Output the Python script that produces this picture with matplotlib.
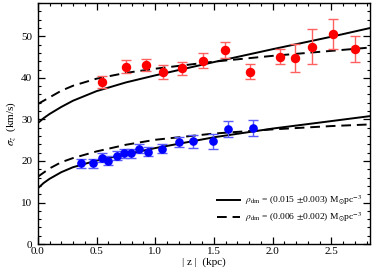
import matplotlib
matplotlib.use("Agg")
import matplotlib.pyplot as plt
from matplotlib.ticker import MultipleLocator

plt.rcParams['font.family'] = ['Liberation Serif', 'DejaVu Serif']
plt.rcParams['mathtext.fontset'] = 'stix'

# Red (upper) data
red_z = [0.545, 0.75, 0.92, 1.07, 1.23, 1.41, 1.594, 1.807, 2.06, 2.19, 2.337, 2.51, 2.70]
red_s = [39.0, 42.7, 43.1, 41.4, 42.3, 44.1, 46.7, 41.5, 45.1, 44.7, 47.5, 50.5, 47.0]
red_e = [1.5, 1.5, 1.5, 1.6, 1.6, 1.8, 1.9, 1.8, 1.8, 3.4, 4.2, 3.6, 3.1]

# Blue (lower) data
blue_z = [0.37, 0.468, 0.545, 0.60, 0.675, 0.73, 0.79, 0.86, 0.94, 1.055, 1.20, 1.32, 1.49, 1.62, 1.835]
blue_s = [19.4, 19.4, 20.8, 20.1, 21.3, 21.8, 21.8, 23.0, 22.2, 23.0, 24.5, 24.7, 24.7, 27.6, 27.9]
blue_e = [1.0, 1.0, 1.0, 1.0, 1.0, 1.0, 1.0, 1.1, 1.1, 1.1, 1.2, 1.5, 1.8, 1.9, 2.0]

# Model curves
curve_z = [0.0, 0.05, 0.1, 0.2, 0.3, 0.5, 0.75, 1.0, 1.5, 2.0, 2.5, 2.83]
red_solid = [29.1, 30.3, 31.3, 33.0, 34.5, 36.8, 38.9, 40.6, 43.8, 46.9, 49.9, 52.0]
red_dash = [33.7, 34.5, 35.3, 36.9, 38.1, 39.8, 41.2, 42.2, 43.9, 45.3, 46.5, 47.3]
blue_solid = [13.4, 14.7, 15.7, 17.3, 18.5, 20.1, 21.6, 23.1, 25.7, 27.8, 29.6, 30.8]
blue_dash = [16.2, 17.2, 18.2, 19.7, 20.7, 22.3, 23.9, 25.1, 26.6, 27.6, 28.4, 28.8]

labels = [r"$\rho_{\rm dm}$ = (0.015 $\pm$0.003) M$_{\odot}$pc$^{-3}$",
          r"$\rho_{\rm dm}$ = (0.006 $\pm$0.002) M$_{\odot}$pc$^{-3}$"]

fig = plt.figure(figsize=(3.74, 2.78), dpi=100)
ax = fig.add_axes([0.101, 0.122, 0.8875, 0.867])

l1, = ax.plot(curve_z, red_solid, color='black', lw=1.4, ls='-')
l2, = ax.plot(curve_z, red_dash, color='black', lw=1.4, ls=(0, (5, 3)))
ax.plot(curve_z, blue_solid, color='black', lw=1.4, ls='-')
ax.plot(curve_z, blue_dash, color='black', lw=1.4, ls=(0, (5, 3)))

ax.errorbar(red_z, red_s, yerr=red_e, fmt='o', color='red', ms=5.8,
            ecolor='#ff6060', elinewidth=1.0, capsize=3.5, capthick=1.0, zorder=3)
ax.errorbar(blue_z, blue_s, yerr=blue_e, fmt='o', color='blue', ms=5.2,
            ecolor='#5a5aff', elinewidth=1.0, capsize=3.5, capthick=1.0, zorder=3)

ax.set_xlim(0, 2.826)
ax.set_ylim(0, 58)
ax.xaxis.set_major_locator(MultipleLocator(0.5))
ax.xaxis.set_minor_locator(MultipleLocator(0.1))
ax.yaxis.set_major_locator(MultipleLocator(10))
ax.yaxis.set_minor_locator(MultipleLocator(2))
ax.xaxis.set_major_formatter(matplotlib.ticker.FormatStrFormatter('%.1f'))
ax.tick_params(which='both', direction='in', top=True, right=True, labelsize=8)
ax.tick_params(axis='x', pad=2)
ax.tick_params(axis='y', pad=4)
ax.tick_params(which='major', length=5, width=0.9)
ax.tick_params(which='minor', length=2.5, width=0.8)
for s in ax.spines.values():
    s.set_linewidth(1.0)

ax.set_xlabel(r"| z |  (kpc)", fontsize=8, labelpad=1)
ax.set_ylabel(r"$\sigma_z$  (km/s)", fontsize=8, labelpad=2)

ax.legend([l1, l2], labels, loc='lower right', frameon=False, fontsize=6.8,
          handlelength=2.5, handletextpad=0.5, borderaxespad=0.4,
          labelspacing=0.45, bbox_to_anchor=(1.0, 0.05))

fig.savefig("out.png", dpi=100)
